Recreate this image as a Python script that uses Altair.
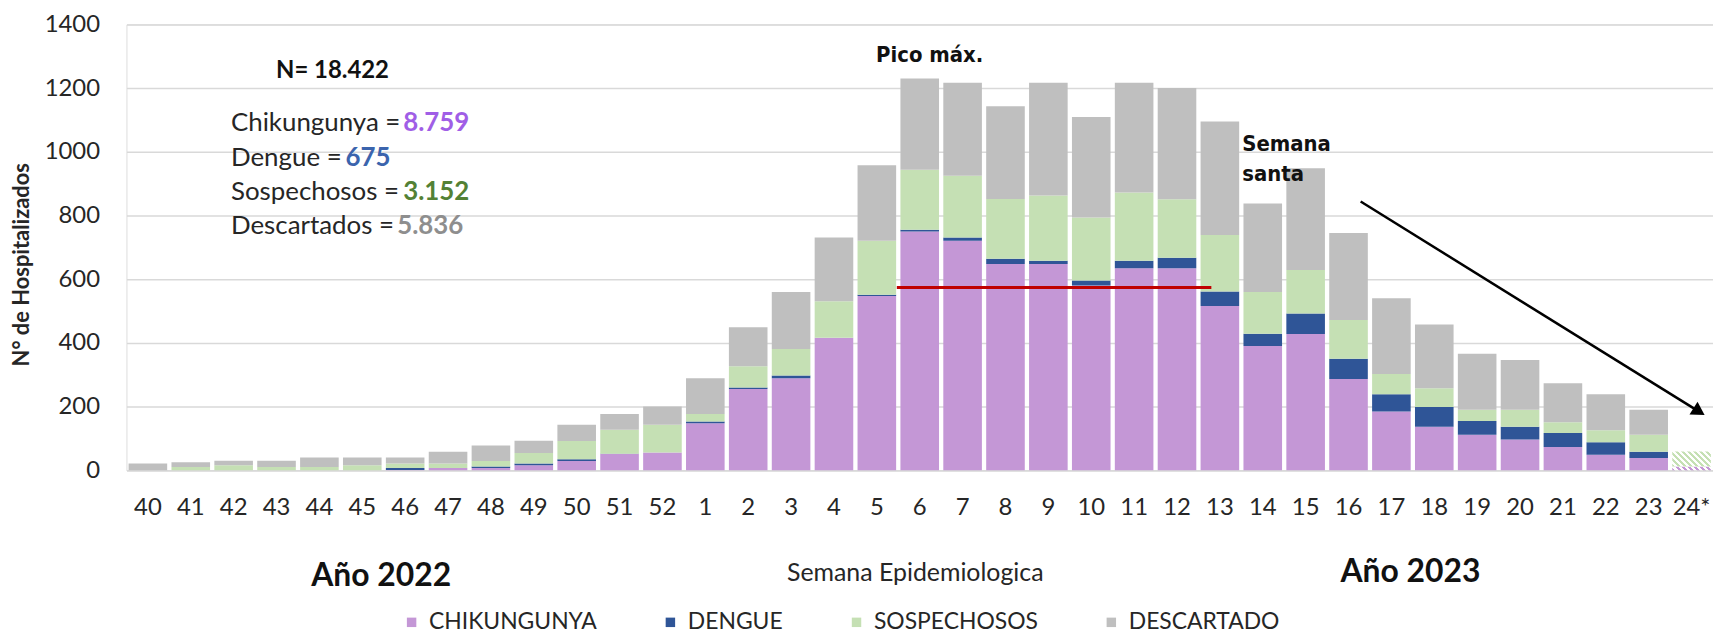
import altair as alt
import pandas as pd

# ---------------- data ----------------
weeks = ["40", "41", "42", "43", "44", "45", "46", "47", "48", "49", "50", "51", "52",
         "1", "2", "3", "4", "5", "6", "7", "8", "9", "10", "11", "12", "13",
         "14", "15", "16", "17", "18", "19", "20", "21", "22", "23", "24*"]
chikungunya = [0, 0, 0, 0, 0, 0, 1, 7, 7, 16, 29, 51, 56,
               148, 255, 289, 416, 547, 750, 721, 648, 648, 580, 634, 634, 516,
               390, 428, 287, 185, 137, 112, 97, 73, 49, 39, 12]
dengue = [0, 0, 0, 0, 0, 0, 6, 0, 5, 5, 6, 1, 0,
          5, 5, 9, 0, 4, 5, 10, 16, 10, 16, 24, 33, 45,
          39, 64, 63, 54, 62, 43, 40, 44, 39, 19, 0]
sospechosos = [0, 10, 16, 10, 10, 16, 14, 14, 17, 33, 57, 75, 87,
               24, 67, 83, 115, 170, 189, 194, 188, 205, 198, 214, 184, 178,
               131, 137, 122, 63, 59, 35, 53, 34, 38, 54, 47]
descartado = [21, 15, 14, 20, 30, 24, 19, 37, 49, 39, 51, 50, 57,
              112, 122, 179, 200, 237, 286, 292, 291, 354, 315, 345, 349, 356,
              278, 319, 273, 238, 200, 176, 156, 122, 113, 78, 0]
categories = ["CHIKUNGUNYA", "DENGUE", "SOSPECHOSOS", "DESCARTADO"]
partial_week = "24*"
peak_level = [574]
summary_labels = ["Chikungunya =", "Dengue =", "Sospechosos =", "Descartados ="]
summary_values = ["8.759", "675", "3.152", "5.836"]
total_label = "N= 18.422"

# ---------------- styles ----------------
colors = ["#C497D6", "#2F5597", "#C5E0B4", "#BFBFBF"]
value_colors = ["#A05EE6", "#3B64AD", "#538135", "#8E8E8E"]
FONT = "Lato"
NARROW = "'Liberation Sans Narrow', 'DejaVu Sans Condensed', 'Roboto', sans-serif"
TXT = "#262626"
W, H = 1594, 448

rows = []
for i, w in enumerate(weeks):
    base = 0
    for k, vals in enumerate([chikungunya, dengue, sospechosos, descartado]):
        v = vals[i]
        rows.append({"week": w, "cat": categories[k], "order": k,
                     "value": v, "y0": base, "y1": base + v})
        base += v
df = pd.DataFrame(rows)
df = df[df["value"] > 0]
solid = df[df["week"] != partial_week]
partial = df[df["week"] == partial_week]


def stripes(color, w, h, period=4.4):
    r = h / w
    L = (1 + r) / (1 + r * r)
    n = max(1, round((w + h) / 2 ** 0.5 / period))
    stops = []
    for k in range(n):
        a, m, b = k / n, (k + 0.5) / n, (k + 1) / n
        stops += [alt.GradientStop(offset=a, color=color),
                  alt.GradientStop(offset=m, color=color),
                  alt.GradientStop(offset=m, color="#ffffff"),
                  alt.GradientStop(offset=b, color="#ffffff")]
    return alt.LinearGradient(gradient="linear", stops=stops,
                              x1=0, y1=1, x2=L, y2=1 - r * L)


x_scale = alt.Scale(domain=weeks, paddingInner=0.1, paddingOuter=0.05)
y_scale = alt.Scale(domain=[0, 1400], nice=False)

x_axis = alt.Axis(labelAngle=0, labelFont=FONT, labelFontSize=24, labelColor=TXT,
                  labelPadding=25, ticks=False, tickSize=0, domain=True,
                  domainColor="#D9D9D9", domainWidth=1.5, grid=False,
                  labelOverlap=False, labelBound=False,
                  title="Semana Epidemiologica", titleFont=FONT, titleFontSize=25,
                  titleFontWeight="normal", titleColor=TXT,
                  titleX=792, titleY=111, titleBaseline="alphabetic", titleAlign="center")
y_axis = alt.Axis(values=[0, 200, 400, 600, 800, 1000, 1200, 1400], format="d",
                  grid=True, gridColor="#D9D9D9", gridWidth=1.5, domain=False,
                  ticks=False, tickSize=0, labelFont=FONT, labelFontSize=24,
                  labelColor=TXT, labelPadding=27,
                  title="N° de Hospitalizados", titleFont=FONT, titleFontSize=22,
                  titleFontWeight="bold", titleColor=TXT, titleAngle=270,
                  titleX=-105, titleY=241, titleAlign="center", titleBaseline="middle")

legend = alt.Legend(orient="none", legendX=275, legendY=589, direction="horizontal",
                    title=None, symbolType="square", symbolSize=90,
                    symbolStrokeWidth=0, labelFont=FONT, labelFontSize=23,
                    labelColor=TXT, columnPadding=62, labelOffset=6, padding=0,
                    labelLimit=0)

bars = alt.Chart(solid).mark_bar().encode(
    x=alt.X("week:N", sort=weeks, scale=x_scale, axis=x_axis),
    y=alt.Y("y0:Q", scale=y_scale, axis=y_axis),
    y2="y1:Q",
    color=alt.Color("cat:N", scale=alt.Scale(domain=categories, range=colors),
                    legend=legend),
)

bw = 0.9 * W / 37
hatch_layers = []
for k, cat in enumerate(categories):
    sub = partial[partial["cat"] == cat]
    if len(sub) == 0:
        continue
    h_px = float(sub["value"].iloc[0]) * H / 1400
    hatch_layers.append(
        alt.Chart(sub).mark_bar(color=stripes(colors[k], bw, h_px)).encode(
            x=alt.X("week:N", sort=weeks), y="y0:Q", y2="y1:Q"))

red_line = alt.Chart(pd.DataFrame({"v": peak_level})).mark_rule(
    color="#C00000", strokeWidth=3).encode(
    y="v:Q", x=alt.value(774), x2=alt.value(1090))

one = pd.DataFrame({"a": [0]})
arrow_line = alt.Chart(one).mark_rule(color="black", strokeWidth=2.5).encode(
    x=alt.value(1240), y=alt.value(178), x2=alt.value(1580), y2=alt.value(389))
arrow_head = alt.Chart(one).mark_point(shape="triangle-right", filled=True,
                                       color="black", opacity=1, size=230,
                                       angle=32).encode(
    x=alt.value(1580), y=alt.value(389))


def label(text, x, y, size, font=FONT, weight="normal", color=TXT, align="left"):
    return alt.Chart(one).mark_text(font=font, fontSize=size, fontWeight=weight,
                                    color=color, align=align,
                                    baseline="alphabetic").encode(
        x=alt.value(x), y=alt.value(y), text=alt.value(text))


texts = [
    label(total_label, 207, 54, 24, weight="bold", color="#111111", align="center"),
    label("Pico máx.", 807, 38, 22, font=NARROW, weight="bold", color="#111111",
          align="center"),
    label("Semana", 1121, 127, 22, font=NARROW, weight="bold", color="#111111"),
    label("santa", 1121, 157, 22, font=NARROW, weight="bold", color="#111111"),
    label("Año 2022", 256, 564, 32, weight="bold", color="#111111", align="center"),
    label("Año 2023", 1290, 560, 32, weight="bold", color="#111111", align="center"),
]
summary_y = [107, 142, 176, 211]
value_x = [278, 220, 278, 272]
for i in range(4):
    texts.append(label(summary_labels[i], 105, summary_y[i], 26))
    texts.append(label(summary_values[i], value_x[i], summary_y[i], 26,
                       weight="bold", color=value_colors[i]))

chart = alt.layer(bars, *hatch_layers, red_line, arrow_line, arrow_head, *texts).properties(
    width=W, height=H,
    autosize=alt.AutoSizeParams(type="none"),
    padding={"left": 119, "top": 15, "right": 0, "bottom": 164},
).configure_view(stroke=None).configure(background="white")

chart.save("out.html", embed_options={"renderer": "svg", "actions": False})
